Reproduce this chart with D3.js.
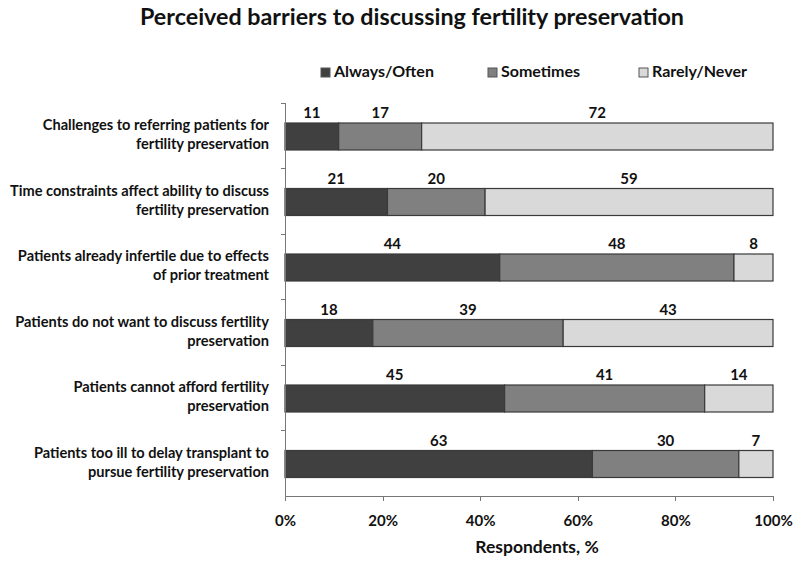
<!DOCTYPE html>
<html lang="en">
<head>
    <meta charset="UTF-8">
    <title>Perceived barriers to discussing fertility preservation</title>
    <style>
        body { margin: 0; background: #fff; }
        svg { font-family: Lato, "Open Sans", sans-serif; }
        .axis path, .axis line { stroke: #777; shape-rendering: crispEdges; }
        .axis text { fill: #111; font-weight: bold; font-size: 15px; font-family: Lato, sans-serif; }
    </style>
</head>
<body>
<div id="chart"></div>
<script src="https://d3js.org/d3.v7.min.js"></script>
<script>

    // data
    var categories = [
        ["Challenges to referring patients for", "fertility preservation"],
        ["Time constraints affect ability to discuss", "fertility preservation"],
        ["Patients already infertile due to effects", "of prior treatment"],
        ["Patients do not want to discuss fertility", "preservation"],
        ["Patients cannot afford fertility", "preservation"],
        ["Patients too ill to delay transplant to", "pursue fertility preservation"]
    ];
    var seriesNames = ["Always/Often", "Sometimes", "Rarely/Never"];
    var alwaysOften  = [11, 21, 44, 18, 45, 63];
    var sometimes    = [17, 20, 48, 39, 41, 30];
    var rarelyNever  = [72, 59, 8, 43, 14, 7];
    var xTicks = [0, 20, 40, 60, 80, 100];

    var colors = ["#404040", "#808080", "#d9d9d9"];

    var width = 800, height = 561;
    var margin = {top: 103, left: 285, right: 27, bottom: 65};

    var svg = d3.select("#chart").append("svg")
            .attr("width", width)
            .attr("height", height);

    // build rows for stacking
    var rows = categories.map(function(c, i) {
        return {idx: i, label: c, "Always/Often": alwaysOften[i], "Sometimes": sometimes[i], "Rarely/Never": rarelyNever[i]};
    });
    var stacked = d3.stack().keys(seriesNames)(rows);

    var x = d3.scaleLinear()
            .domain([0, 100])
            .range([margin.left, width - margin.right]);

    var y = d3.scaleBand()
            .domain(d3.range(categories.length))
            .range([margin.top, height - margin.bottom]);

    var barH = 27;
    var barOff = 20;   // bar top offset inside its band
    var plotBottom = height - margin.bottom;

    // title
    svg.append("text")
            .attr("x", 412)
            .attr("y", 25)
            .attr("text-anchor", "middle")
            .style("font-size", "23.3px")
            .style("font-weight", "bold")
            .style("fill", "#111")
            .text("Perceived barriers to discussing fertility preservation");

    // legend
    var legendX = [321, 488, 639];
    var legend = svg.selectAll(".legend")
            .data(seriesNames)
            .enter().append("g")
            .attr("class", "legend")
            .attr("transform", function(d, i) { return "translate(" + legendX[i] + ",77)"; });
    legend.append("rect")
            .attr("x", 0).attr("y", -9)
            .attr("width", 9).attr("height", 9)
            .attr("fill", function(d, i) { return colors[i]; })
            .attr("stroke", "#555");
    legend.append("text")
            .attr("x", 13)
            .attr("y", 0)
            .style("font-size", "16px")
            .style("font-weight", "bold")
            .style("fill", "#111")
            .text(function(d) { return d; });

    // bars
    var layer = svg.selectAll(".layer")
            .data(stacked)
            .enter().append("g")
            .attr("class", "layer")
            .attr("fill", function(d, i) { return colors[i]; });

    layer.selectAll("rect")
            .data(function(d) { return d; })
            .enter().append("rect")
            .attr("x", function(d) { return x(d[0]); })
            .attr("y", function(d) { return y(d.data.idx) + barOff; })
            .attr("width", function(d) { return x(d[1]) - x(d[0]); })
            .attr("height", barH)
            .attr("stroke", "#3a3a3a")
            .attr("stroke-width", 1.2);

    // value labels above each segment
    layer.selectAll("text")
            .data(function(d) { return d; })
            .enter().append("text")
            .attr("x", function(d) { return (x(d[0]) + x(d[1])) / 2; })
            .attr("y", function(d) { return y(d.data.idx) + 15; })
            .attr("text-anchor", "middle")
            .style("font-size", "15px")
            .style("font-weight", "bold")
            .style("fill", "#111")
            .text(function(d) { return d[1] - d[0]; });

    // y axis: line with ticks at band edges
    var yAxis = svg.append("g").attr("class", "axis");
    yAxis.append("line")
            .attr("x1", margin.left).attr("x2", margin.left)
            .attr("y1", margin.top).attr("y2", plotBottom);
    yAxis.selectAll(".ytick")
            .data(d3.range(categories.length))
            .enter().append("line")
            .attr("class", "ytick")
            .attr("x1", margin.left - 4).attr("x2", margin.left)
            .attr("y1", function(d) { return y(d); })
            .attr("y2", function(d) { return y(d); });

    // category labels
    var catLabels = svg.selectAll(".cat")
            .data(rows)
            .enter().append("text")
            .attr("class", "cat")
            .attr("text-anchor", "end")
            .style("font-size", "14.6px")
            .style("font-weight", "bold")
            .style("fill", "#111");
    catLabels.selectAll("tspan")
            .data(function(d) { return d.label.map(function(l, k) { return {t: l, k: k, idx: d.idx}; }); })
            .enter().append("tspan")
            .attr("x", 269)
            .attr("y", function(d) { return y(d.idx) + barOff + 7 + d.k * 19; })
            .text(function(d) { return d.t; });

    // x axis
    svg.append("g")
            .attr("class", "axis")
            .attr("transform", "translate(0," + plotBottom + ")")
            .call(d3.axisBottom(x).tickValues(xTicks).tickSize(5).tickPadding(14)
                    .tickFormat(function(d) { return d + "%"; }))
            .call(function(g) { g.select(".domain").attr("d", "M" + margin.left + ",0H" + x(100)); });

    svg.append("text")
            .attr("x", 537)
            .attr("y", 553)
            .attr("text-anchor", "middle")
            .style("font-size", "17.5px")
            .style("font-weight", "bold")
            .style("fill", "#111")
            .text("Respondents, %");

</script>
</body>
</html>
